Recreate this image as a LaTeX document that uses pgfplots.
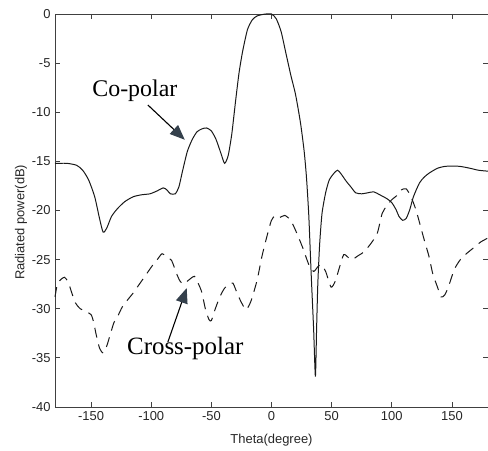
\documentclass[border=0pt]{standalone}
\usepackage{fontspec}
\setmainfont{Liberation Sans}
\newfontfamily\annot{Liberation Serif}
\usepackage{pgfplots}
\pgfplotsset{compat=1.18}
\usetikzlibrary{arrows.meta}
\definecolor{arrowc}{HTML}{34404C}
\definecolor{axc}{HTML}{404040}
\begin{document}
\begin{tikzpicture}
\begin{axis}[
  name=ax,
  at={(0,0)}, anchor=south west,
  scale only axis, width=433bp, height=393bp,
  xmin=-180, xmax=180, ymin=-40, ymax=0,
  xtick={-150,-100,-50,0,50,100,150},
  ytick={-40,-35,-30,-25,-20,-15,-10,-5,0},
  tick align=inside, tick pos=both,
  major tick length=5bp,
  axis line style={axc, line width=1pt},
  tick style={axc, line width=0.8pt},
  /pgf/number format/assume math mode=true,
  tick label style={font=\fontsize{13}{13}\selectfont, text=black!85},
  xticklabel style={yshift=-1bp},
  yticklabel style={xshift=-1bp},
  xlabel={Theta(degree)}, ylabel={Radiated power(dB)},
  every axis x label/.style={at={(axis description cs:0.5,-0.084)},anchor=center,font=\fontsize{13}{13}\selectfont, text=black!85},
  every axis y label/.style={at={(axis description cs:-0.0785,0.47)},rotate=90,anchor=center,font=\fontsize{13}{13}\selectfont, text=black!85},
  clip=false,
]
\addplot[black!90, line width=1pt, smooth, tension=0.4] coordinates {
(-180,-15.2) (-170,-15.2) (-162,-15.4) (-157,-15.9) (-152,-16.9) (-147,-18.6)
(-143,-20.8) (-140,-22.2) (-137,-21.8) (-133,-20.6) (-128,-19.8) (-122,-19.1)
(-115,-18.6) (-108,-18.4) (-101,-18.3) (-95,-18.0) (-90,-17.7) (-87,-17.9)
(-84,-18.3) (-80,-18.3) (-77,-17.6) (-74,-16.0) (-70,-14.0) (-66,-12.8)
(-62,-12.0) (-58,-11.7) (-54,-11.6) (-50,-11.9) (-46,-12.8) (-42,-14.2)
(-39,-15.2) (-36,-14.4) (-33,-12.2) (-30,-9.0) (-27,-6.0) (-24,-3.8)
(-20,-1.6) (-16,-0.6) (-12,-0.2) (-6,-0.02) (0,0) (4,-0.5) (8,-1.8)
(12,-4.0) (16,-6.2) (20,-8.2) (24,-11.0) (27,-13.8) (29,-16.5) (31,-20.5)
(33,-26.5) (35,-32) (36.5,-36.9) (37.5,-32) (38.5,-27.5) (40,-23.5)
(42,-20.3) (45,-18.2) (48,-16.9) (52,-16.2) (55,-15.9) (58,-16.3)
(62,-17.0) (66,-17.6) (70,-18.2) (75,-18.3) (80,-18.2) (85,-18.1)
(90,-18.4) (96,-18.8) (100,-19.2) (103.5,-19.9) (106,-20.6) (109,-21.0)
(112,-20.8) (115,-19.9) (118,-18.6) (123,-17.2) (127,-16.6) (131,-16.2)
(138,-15.7) (145,-15.5) (156,-15.5) (165,-15.7) (172,-15.9) (180,-16.0)
};
\addplot[black!90, line width=1pt, dash pattern=on 10bp off 7bp, smooth, tension=0.4] coordinates {
(-180,-28.8) (-178,-27.5) (-175,-27.0) (-172,-26.8) (-169,-27.3) (-166,-28.4)
(-163,-29.4) (-159,-30.0) (-154,-30.3) (-150,-30.6) (-148,-31.3) (-146,-32.5)
(-143,-34.0) (-140,-34.5) (-137,-33.8) (-134,-32.6) (-131,-31.4) (-128,-30.8)
(-124,-29.8) (-119,-29.0) (-115,-28.4) (-111,-27.7) (-107,-27.0) (-103,-26.3)
(-99,-25.6) (-95,-25.0) (-91,-24.4) (-87,-24.7) (-83,-25.1) (-79,-26.4)
(-76,-27.2) (-73,-27.5) (-70,-27.2) (-67,-26.9) (-64,-26.7) (-61,-27.4)
(-58,-28.3) (-55,-30.0) (-52,-31.1) (-50,-31.2) (-47,-30.1) (-43,-28.8)
(-39,-27.9) (-35,-27.5) (-32,-27.4) (-28,-28.6) (-24,-29.6) (-21,-30.1)
(-17,-29.2) (-12,-27.1) (-8,-24.7) (-5,-23.2) (-2,-21.8) (0,-21.0)
(3,-20.5) (7,-20.7) (11,-20.5) (16,-21.0) (21,-22.3) (26,-23.8) (31,-25.5)
(35,-26.2) (38,-25.8) (41,-25.5) (45,-26.2) (49.5,-27.8) (53,-27.2)
(56,-26.0) (60,-24.5) (64,-24.8) (67,-25.0) (72,-24.6) (77,-24.2)
(83,-23.3) (88,-22.3) (92,-20.3) (96,-19.5) (100,-18.9) (104,-18.5)
(108,-17.9) (112,-17.8) (116,-18.6) (120,-19.9) (123,-21.2) (127,-23.0)
(131,-24.7) (134,-26.4) (138,-27.8) (141,-28.8) (144,-28.6) (147,-27.8)
(152,-26.0) (157,-25.0) (162,-24.4) (168,-23.8) (174,-23.2) (180,-22.8)
};
\node[anchor=base, font=\annot\fontsize{24}{24}\selectfont] at (axis cs:-113.6,-8.4) {Co-polar};
\node[anchor=base, font=\annot\fontsize{25}{25}\selectfont] at (axis cs:-71.7,-34.7) {Cross-polar};
\draw[black, line width=1.1pt, -{Triangle[length=15bp,width=12bp,fill=arrowc,color=arrowc]}] (axis cs:-102.8,-9.26) -- (axis cs:-72.1,-12.8);
\draw[black, line width=1.1pt, -{Triangle[length=15bp,width=12bp,fill=arrowc,color=arrowc]}] (axis cs:-86.2,-33.4) -- (axis cs:-70.5,-27.9);
\end{axis}
\pgfresetboundingbox
\path (-55bp,-44bp) rectangle (433bp,407bp);
\end{tikzpicture}
\end{document}
